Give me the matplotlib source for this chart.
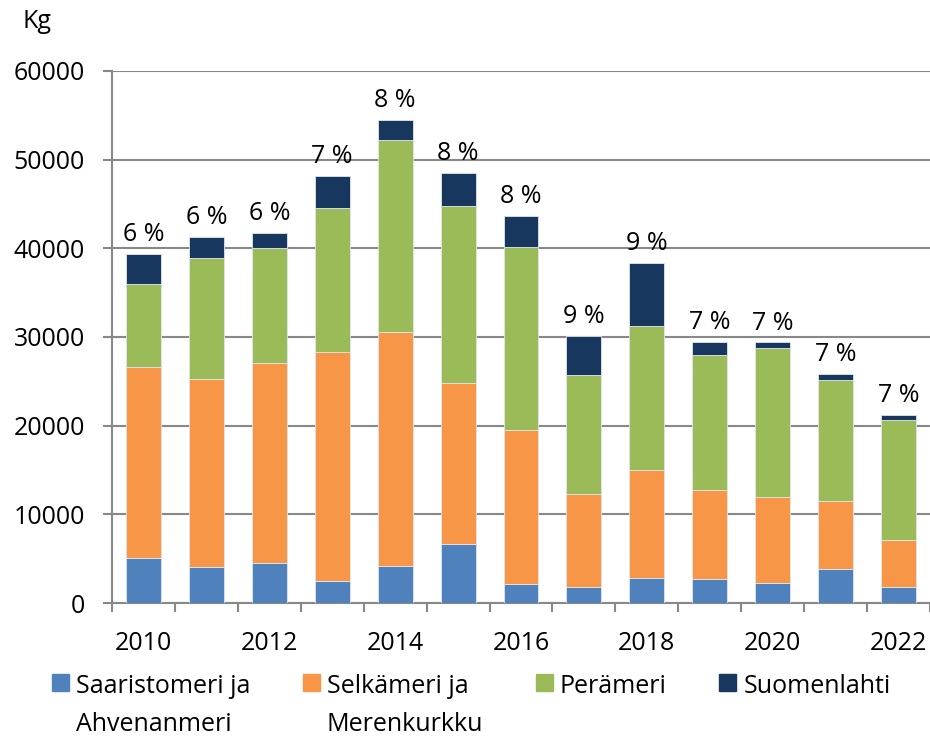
import matplotlib.pyplot as plt
import numpy as np
from matplotlib.patches import Patch

plt.rcParams['font.family'] = ['Open Sans', 'DejaVu Sans']

years = [2010, 2011, 2012, 2013, 2014, 2015, 2016, 2017, 2018, 2019, 2020, 2021, 2022]
saaristomeri = [5050, 4110, 4490, 2490, 4180, 6630, 2190, 1770, 2830, 2710, 2260, 3840, 1810]
selkameri = [21620, 21130, 22560, 25870, 26410, 18160, 17320, 10550, 12200, 10020, 9720, 7690, 5310]
perameri = [9260, 13670, 12950, 16240, 21610, 19960, 20640, 13370, 16240, 15290, 16830, 13600, 13490]
suomenlahti = [3390, 2380, 1740, 3540, 2260, 3720, 3470, 4450, 7080, 1400, 570, 680, 600]
osuus = [6, 6, 6, 7, 8, 8, 8, 9, 9, 7, 7, 7, 7]

labels = ["Saaristomeri ja\nAhvenanmeri", "Selkämeri ja\nMerenkurkku", "Perämeri", "Suomenlahti"]
colors = ["#4F81BD", "#F79646", "#9BBB59", "#17375E"]
grey = "#888888"
fs = 18

fig = plt.figure(figsize=(9.3, 7.39), dpi=100)
ax = fig.add_axes([0.1204, 0.184, 0.8796, 0.720])

x = np.arange(len(years))
bottom = np.zeros(len(years))
for vals, c in zip([saaristomeri, selkameri, perameri, suomenlahti], colors):
    ax.bar(x, vals, width=0.555, bottom=bottom, color=c, edgecolor="#dfe6ee", linewidth=0.6, zorder=3)
    bottom += np.array(vals)

# prosenttiosuudet pylväiden päälle
for xi, tot, p in zip(x, bottom, osuus):
    ax.annotate(f"{p} %", (xi, tot), xytext=(0, 5), textcoords="offset points",
                ha="center", va="bottom", fontsize=fs)

ax.set_xlim(-0.5, len(years) - 0.5)
ax.set_ylim(0, 60000)
ax.set_yticks(np.arange(0, 60001, 10000))
ax.tick_params(axis="y", labelsize=fs, length=6.5, width=1.5, color=grey, pad=13)
ax.yaxis.grid(True, color=grey, linewidth=1.5, zorder=0)

ax.set_xticks(x[::2])
ax.set_xticklabels([str(y) for y in years[::2]])
ax.set_xticks(np.arange(-0.5, len(years)), minor=True)
ax.tick_params(axis="x", which="major", length=0, labelsize=fs, pad=20)
ax.tick_params(axis="x", which="minor", length=6.5, width=1.5, color=grey)

for s in ["top", "right"]:
    ax.spines[s].set_visible(False)
for s in ["left", "bottom"]:
    ax.spines[s].set_color(grey)
    ax.spines[s].set_linewidth(1.5)

fig.text(0.024, 0.971, "Kg", fontsize=fs, va="center")

handles = [Patch(color=c) for c in colors]
leg = fig.legend(handles, labels, loc="upper left", bbox_to_anchor=(0.056, 0.088), ncol=4,
                 frameon=False, fontsize=fs, handlelength=0.68, handleheight=0.68,
                 handletextpad=0.28, columnspacing=2.1, borderpad=0, borderaxespad=0)
for t in leg.get_texts():
    t.set_linespacing(1.7)
# merkki ja sarakkeet ensimmäisen rivin kohdalle
leg._legend_handle_box.align = "top"
for col in leg._legend_handle_box.get_children():
    for item in col.get_children():
        item.align = "top"

fig.savefig("out.png", dpi=100)
